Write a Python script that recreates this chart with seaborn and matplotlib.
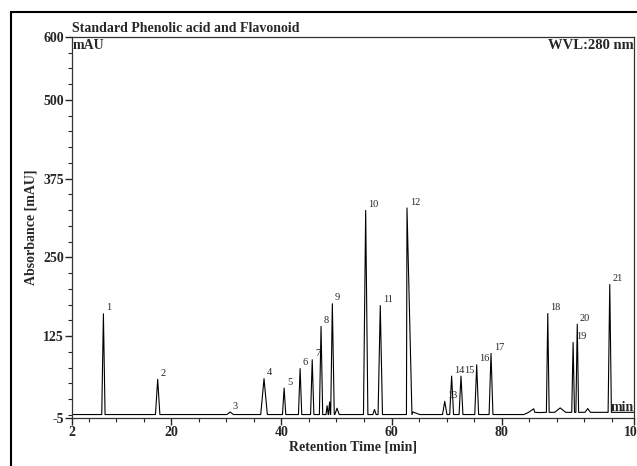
import numpy as np
import pandas as pd
import matplotlib
matplotlib.use("Agg")
import matplotlib.pyplot as plt
from matplotlib.ticker import MultipleLocator, FixedLocator
from matplotlib.patches import Rectangle
import seaborn as sns

# peak table
peak_labels = [str(i) for i in range(1, 22)]
peak_times = [7.7, 17.55, 30.7, 36.85, 40.5, 43.4, 45.6, 47.2, 49.25, 55.3, 57.95,
              62.8, 69.65, 70.9, 72.6, 75.45, 78.05, 88.35, 92.95, 93.7, 99.6]
peak_heights = [160, 56, 4, 57, 42, 73, 87, 140, 176, 324, 173,
                328, 21, 61, 61, 79, 97, 157, 111, 140, 203]
peak_widths = [0.3, 0.4, 0.6, 0.6, 0.3, 0.3, 0.3, 0.3, 0.35, 0.4, 0.4,
               0.9, 0.4, 0.35, 0.35, 0.35, 0.35, 0.25, 0.25, 0.25, 0.3]

# small unlabelled peaks
minor_times = [48.3, 48.75, 50.1, 56.9, 63.9, 85.8, 90.6, 95.6]
minor_heights = [14, 20, 10, 8, 4, 6, 7, 6]
minor_widths = [0.2, 0.2, 0.4, 0.3, 1.2, 1.0, 1.0, 0.5]

# baseline drift
base_times = [2, 84.0, 86.0, 97.0, 104]
base_values = [0.5, 0.5, 4, 4, 4]

x_ticks = [2, 20, 40, 60, 80, 104]
y_ticks = [-5, 125, 250, 375, 500, 600]

# build the trace vertices from the peak table
t_all = list(peak_times) + list(minor_times)
h_all = list(peak_heights) + list(minor_heights)
w_all = list(peak_widths) + list(minor_widths)
xs, ys = list(base_times), list(base_values)
for t, h, w in zip(t_all, h_all, w_all):
    foot = np.interp(t, base_times, base_values)
    xs += [t - w, t, t + w]
    ys += [foot, foot + h, foot]
trace = pd.DataFrame({"time": xs, "abs": ys}).sort_values("time")

sns.set_style("ticks")
plt.rcParams["font.family"] = ["Liberation Serif", "DejaVu Serif"]

fig = plt.figure(figsize=(6.37, 4.66), dpi=100)
ax = fig.add_axes([72 / 637, 1 - 418 / 466, (634 - 72) / 637, (418 - 37) / 466])

sns.lineplot(data=trace, x="time", y="abs", sort=False, estimator=None,
             color="black", linewidth=0.8, ax=ax)

for lab, t, h in zip(peak_labels, peak_times, peak_heights):
    foot = np.interp(t, base_times, base_values)
    ax.annotate(lab, (t, h + foot), xytext=(2, 1), textcoords="offset points",
                ha="left", va="bottom", fontsize=7.5)

ax.set_xlim(2, 104)
ax.set_ylim(-5, 600)
ax.xaxis.set_major_locator(FixedLocator(x_ticks))
ax.yaxis.set_major_locator(FixedLocator(y_ticks))
ax.xaxis.set_minor_locator(MultipleLocator(5))
ax.yaxis.set_minor_locator(MultipleLocator(25))
ax.set_xticklabels([str(v) for v in x_ticks])
ax.set_yticklabels([str(v) for v in y_ticks])
ax.tick_params(which="major", direction="out", length=5, width=1, labelsize=10, pad=1)
ax.tick_params(which="minor", direction="out", length=3, width=0.8)
for lbl in ax.get_xticklabels() + ax.get_yticklabels():
    lbl.set_fontweight("bold")
for sp in ax.spines.values():
    sp.set_linewidth(0.9)
    sp.set_color("#333333")

ax.set_xlabel("Retention Time [min]", fontsize=10, fontweight="bold", labelpad=1)
ax.set_ylabel("Absorbance [mAU]", fontsize=10, fontweight="bold", labelpad=4)

ax.text(0, 1.005, "Standard Phenolic acid and Flavonoid", transform=ax.transAxes,
        ha="left", va="bottom", fontsize=10, fontweight="bold")
ax.text(0.002, 0.995, "mAU", transform=ax.transAxes, ha="left", va="top",
        fontsize=10, fontweight="bold")
ax.text(1.0, 0.995, "WVL:280 nm", transform=ax.transAxes, ha="right", va="top",
        fontsize=10.5, fontweight="bold")
ax.text(1.0, 0.01, "min", transform=ax.transAxes, ha="right", va="bottom",
        fontsize=10, fontweight="bold")

fig.add_artist(Rectangle((11 / 637, -0.1), 1.2, 0.1 + 1 - 12 / 466,
                         transform=fig.transFigure, fill=False,
                         edgecolor="black", linewidth=1.5))

fig.savefig("out.png", dpi=100)
